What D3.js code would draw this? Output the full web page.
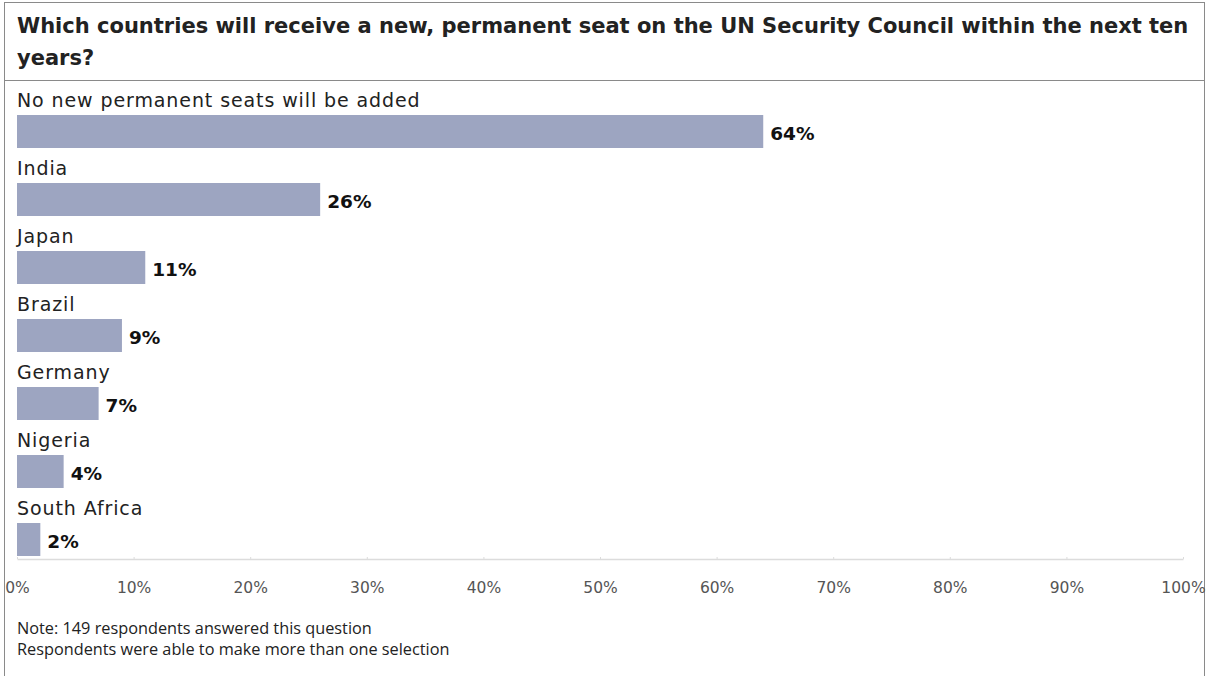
<!DOCTYPE html>
<html><head><meta charset="utf-8">
<script src="https://cdn.jsdelivr.net/npm/d3@7"></script>
<style>body{margin:0;background:#fff;}svg{display:block;}</style>
</head><body>
<svg id="c" width="1209" height="676"></svg>
<script>
const titleLines = ["Which countries will receive a new, permanent seat on the UN Security Council within the next ten", "years?"];
const categories = ["No new permanent seats will be added","India","Japan","Brazil","Germany","Nigeria","South Africa"];
const values = [64,26,11,9,7,4,2];
const ticks = [0,10,20,30,40,50,60,70,80,90,100];
const notes = ["Note: 149 respondents answered this question","Respondents were able to make more than one selection"];

const svg = d3.select("#c");
const font = "'DejaVu Sans', sans-serif";
const noteFont = "'Open Sans', sans-serif";
// frame
svg.append("rect").attr("x",4.5).attr("y",2.5).attr("width",1200).attr("height",700)
  .attr("fill","none").attr("stroke","#8a8a8a").attr("stroke-width",1);
svg.append("line").attr("x1",4).attr("x2",1205).attr("y1",80.5).attr("y2",80.5)
  .attr("stroke","#8a8a8a");
svg.append("text").attr("font-family",font).attr("font-weight",700).attr("font-size",21)
  .attr("fill","#222").selectAll("tspan").data(titleLines).join("tspan")
  .attr("x",17).attr("y",(d,i)=>33+i*32).text(d=>d);

const x = d3.scaleLinear().domain([0,100]).range([17,1183]);
const step = 68, y0 = 115, bh = 33;
const g = svg.append("g");
g.selectAll("rect.bar").data(values).join("rect").attr("class","bar")
  .attr("x",x(0)).attr("y",(d,i)=>y0+i*step).attr("height",bh)
  .attr("width",d=>x(d)-x(0)).attr("fill","#9da5c1");
g.selectAll("text.cat").data(categories).join("text").attr("class","cat")
  .attr("x",17).attr("y",(d,i)=>y0+i*step-8).attr("font-family",font)
  .attr("font-size",19).attr("letter-spacing",0.9).attr("fill","#222").text(d=>d);
g.selectAll("text.val").data(values).join("text").attr("class","val")
  .attr("x",d=>x(d)+7).attr("y",(d,i)=>y0+i*step+bh/2+8)
  .attr("font-family",font).attr("font-weight",700).attr("font-size",18.5)
  .attr("fill","#111").text(d=>d+"%");

const axis = d3.axisBottom(x).tickValues(ticks).tickFormat(d=>d+"%").tickSize(0).tickPadding(23);
const ag = svg.append("g").attr("transform","translate(0,559)").call(axis);
ag.select(".domain").attr("stroke","#dcdcdc").attr("stroke-width",1.5);
ag.selectAll(".tick text").attr("font-family",font).attr("font-size",15.5).attr("fill","#555");
ag.selectAll(".tick").append("line").attr("y1",-2).attr("y2",0).attr("stroke","#dcdcdc");

svg.append("g").selectAll("text").data(notes).join("text")
  .attr("x",17).attr("y",(d,i)=>634+i*21).attr("font-family",noteFont).attr("font-size",16.3)
  .attr("fill","#222").text(d=>d);
</script>
</body></html>
